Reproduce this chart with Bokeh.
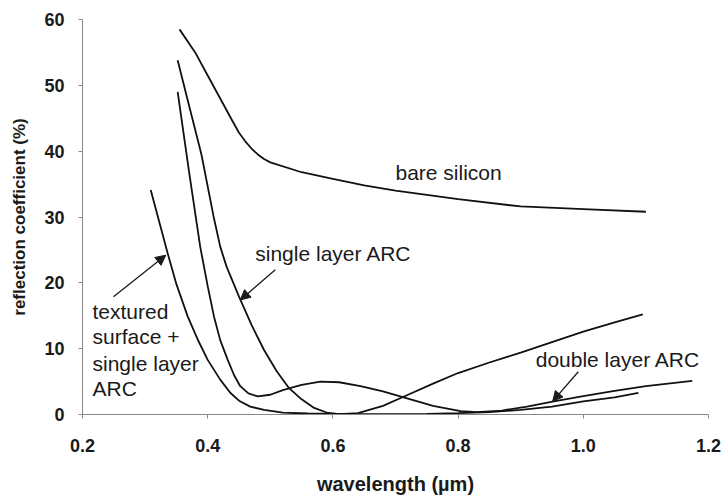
from bokeh.plotting import figure
from bokeh.models import Range1d, FixedTicker, NumeralTickFormatter, Arrow, NormalHead, ColumnDataSource
from bokeh.core.properties import value
from bokeh.embed import file_html
from bokeh.resources import INLINE

# ---- data ----
bare_x = [0.355, 0.38, 0.40, 0.42, 0.44, 0.45, 0.46, 0.47, 0.48, 0.49, 0.50, 0.55, 0.60, 0.65, 0.70, 0.80, 0.90, 1.00, 1.10]
bare_y = [58.5, 55.0, 51.5, 48.0, 44.5, 42.8, 41.5, 40.4, 39.5, 38.8, 38.3, 36.8, 35.8, 34.8, 34.0, 32.7, 31.6, 31.2, 30.8]

single_x = [0.352, 0.37, 0.39, 0.41, 0.42, 0.43, 0.45, 0.47, 0.49, 0.51, 0.53, 0.55, 0.57, 0.59, 0.61,
            0.64, 0.68, 0.72, 0.76, 0.80, 0.85, 0.90, 0.95, 1.00, 1.05, 1.095]
single_y = [53.8, 47.0, 39.5, 29.8, 25.5, 22.5, 17.9, 13.6, 9.8, 6.6, 4.0, 2.3, 1.0, 0.3, 0.05,
            0.2, 1.3, 3.0, 4.7, 6.3, 7.9, 9.4, 11.0, 12.6, 14.0, 15.2]

textured_x = [0.309, 0.32, 0.336, 0.35, 0.368, 0.385, 0.40, 0.42, 0.436, 0.45, 0.468, 0.49, 0.52, 0.56,
              0.60, 0.65, 0.70, 0.75, 0.80, 0.85, 0.90, 0.95, 1.00, 1.05, 1.088]
textured_y = [34.1, 30.2, 24.5, 19.8, 14.9, 11.2, 8.3, 5.3, 3.3, 2.1, 1.2, 0.7, 0.3, 0.15,
              0.1, 0.05, 0.05, 0.1, 0.2, 0.35, 0.7, 1.2, 2.0, 2.6, 3.3]

double_x = [0.352, 0.37, 0.388, 0.40, 0.41, 0.42, 0.432, 0.442, 0.452, 0.465, 0.48, 0.50, 0.52, 0.55,
            0.58, 0.61, 0.644, 0.68, 0.713, 0.76, 0.804, 0.83, 0.87, 0.91, 0.953, 1.00, 1.05, 1.10, 1.174]
double_y = [49.0, 37.0, 25.5, 19.5, 14.9, 11.3, 8.3, 6.0, 4.3, 3.2, 2.75, 3.0, 3.7, 4.5,
            5.0, 4.9, 4.3, 3.5, 2.6, 1.3, 0.5, 0.35, 0.6, 1.2, 2.0, 2.8, 3.6, 4.3, 5.1]

x_ticks = [0.2, 0.4, 0.6, 0.8, 1.0, 1.2]
y_ticks = [0, 10, 20, 30, 40, 50, 60]

label_text = ["bare silicon", "single layer ARC", "textured", "surface +", "single layer", "ARC", "double layer ARC"]
label_x = [0.70, 0.476, 0.216, 0.216, 0.216, 0.216, 0.924]
label_y = [36.8, 24.5, 15.6, 11.8, 7.7, 3.9, 8.3]

arrow_x_start = [0.508, 0.2495, 0.992]
arrow_y_start = [22.0, 17.9, 6.5]
arrow_x_end = [0.452, 0.333, 0.951]
arrow_y_end = [17.4, 24.2, 2.0]

# ---- figure ----
p = figure(width=723, height=497, output_backend="svg", toolbar_location=None,
           x_range=Range1d(0.2, 1.2), y_range=Range1d(0, 60),
           min_border_left=82, min_border_right=15, min_border_top=19, min_border_bottom=82)
p.outline_line_color = None
p.xgrid.visible = False
p.ygrid.visible = False

for xs, ys in [(bare_x, bare_y), (single_x, single_y), (textured_x, textured_y), (double_x, double_y)]:
    p.line(xs, ys, line_color="#111111", line_width=1.8)

src = ColumnDataSource(dict(x=label_x, y=label_y, t=label_text))
p.text(x="x", y="y", text="t", source=src, text_font=value("Liberation Sans"),
       text_font_size="21px", text_color="#1a1a1a", text_baseline="middle", text_align="left")

asrc = ColumnDataSource(dict(x0=arrow_x_start, y0=arrow_y_start, x1=arrow_x_end, y1=arrow_y_end))
p.add_layout(Arrow(x_start="x0", y_start="y0", x_end="x1", y_end="y1", source=asrc,
                   line_color="#1a1a1a", line_width=1.3,
                   end=NormalHead(size=10, fill_color="#1a1a1a", line_color="#1a1a1a")))

for ax in (p.xaxis[0], p.yaxis[0]):
    ax.axis_line_color = "#888888"
    ax.major_tick_line_color = "#888888"
    ax.minor_tick_line_color = None
    ax.major_tick_in = 0
    ax.major_tick_out = 4
    ax.major_label_text_font = "Liberation Sans"
    ax.major_label_text_font_style = "bold"
    ax.major_label_text_font_size = "18px"
    ax.major_label_text_color = "#1a1a1a"
    ax.axis_label_text_font = "Liberation Sans"
    ax.axis_label_text_font_style = "bold"
    ax.axis_label_text_color = "#1a1a1a"

p.xaxis.ticker = FixedTicker(ticks=x_ticks)
p.xaxis.formatter = NumeralTickFormatter(format="0.0")
p.yaxis.ticker = FixedTicker(ticks=y_ticks)
p.xaxis.axis_label = "wavelength (µm)"
p.yaxis.axis_label = "reflection coefficient (%)"
p.xaxis.axis_label_text_font_size = "20px"
p.yaxis.axis_label_text_font_size = "17px"
p.xaxis.major_label_standoff = 20
p.yaxis.major_label_standoff = 14
p.xaxis.axis_label_standoff = 18
p.yaxis.axis_label_standoff = 12

open("out.html", "w").write(file_html(p, INLINE))
